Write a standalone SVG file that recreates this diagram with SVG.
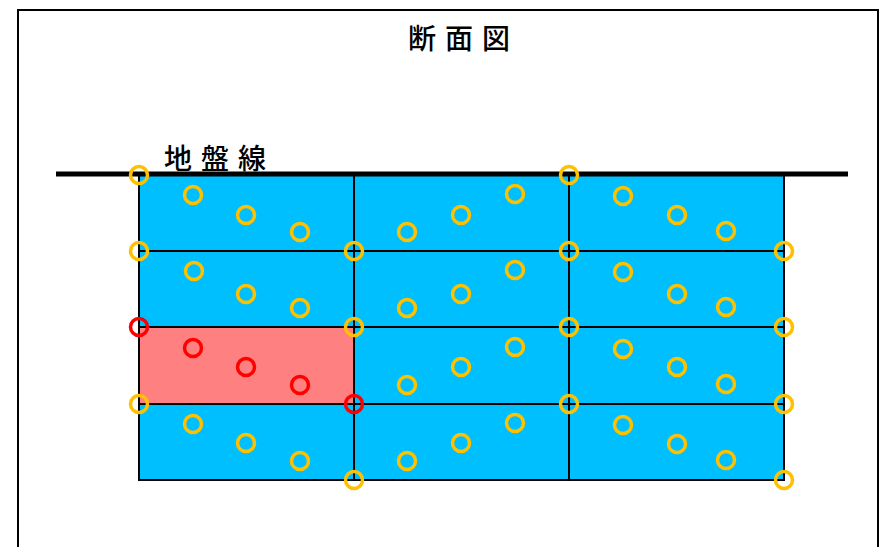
<svg xmlns="http://www.w3.org/2000/svg" width="883" height="547" viewBox="0 0 883 547">
<style>
.t{font-family:"Noto Sans CJK JP","Noto Sans",sans-serif;font-size:28px;font-weight:500;fill:#000;letter-spacing:9px}
.g{stroke:#000;stroke-width:2;fill:none}
.o{fill:none;stroke:#FFC000;stroke-width:3.5}
.r{fill:none;stroke:#FF0000;stroke-width:3.5}
</style>
<rect x="0" y="0" width="883" height="547" fill="#fff"/>
<rect x="18" y="10" width="860" height="560" fill="none" stroke="#000" stroke-width="2"/>
<text class="t" x="408" y="49">断面図</text>
<text class="t" x="164" y="169">地盤線</text>
<g id="ground">
<rect x="139" y="175" width="645" height="305" fill="#00BFFF"/>
<rect x="139" y="327" width="215" height="77" fill="#FF8080"/>
</g>
<g id="connectors" class="g">
<path d="M139 175V480H784V175M354 175V480M569 175V480M139 251H784M139 327H784M139 404H784"/>
<path d="M56 174H848" stroke-width="5"/>
</g>
<g id="nodes">
<g class="o">
<circle cx="193" cy="195" r="8.5"/><circle cx="246" cy="215" r="8.5"/><circle cx="300" cy="232" r="8.5"/>
<circle cx="194" cy="271" r="8.5"/><circle cx="246" cy="294" r="8.5"/><circle cx="300" cy="308" r="8.5"/>
<circle cx="193" cy="424" r="8.5"/><circle cx="246" cy="443" r="8.5"/><circle cx="300" cy="461" r="8.5"/>
<circle cx="407" cy="232" r="8.5"/><circle cx="461" cy="215" r="8.5"/><circle cx="515" cy="194" r="8.5"/>
<circle cx="407" cy="308" r="8.5"/><circle cx="461" cy="294" r="8.5"/><circle cx="515" cy="270" r="8.5"/>
<circle cx="407" cy="385" r="8.5"/><circle cx="461" cy="367" r="8.5"/><circle cx="515" cy="347" r="8.5"/>
<circle cx="407" cy="461" r="8.5"/><circle cx="461" cy="443" r="8.5"/><circle cx="515" cy="423" r="8.5"/>
<circle cx="623" cy="196" r="8.5"/><circle cx="677" cy="215" r="8.5"/><circle cx="726" cy="231" r="8.5"/>
<circle cx="623" cy="272" r="8.5"/><circle cx="677" cy="294" r="8.5"/><circle cx="726" cy="307" r="8.5"/>
<circle cx="623" cy="349" r="8.5"/><circle cx="677" cy="367" r="8.5"/><circle cx="726" cy="384" r="8.5"/>
<circle cx="623" cy="425" r="8.5"/><circle cx="677" cy="444" r="8.5"/><circle cx="726" cy="460" r="8.5"/>
<circle cx="139" cy="175" r="8.5"/><circle cx="569" cy="175" r="8.5"/>
<circle cx="139" cy="251" r="8.5"/><circle cx="354" cy="251" r="8.5"/><circle cx="569" cy="251" r="8.5"/><circle cx="784" cy="251" r="8.5"/>
<circle cx="354" cy="327" r="8.5"/><circle cx="569" cy="327" r="8.5"/><circle cx="784" cy="327" r="8.5"/>
<circle cx="139" cy="404" r="8.5"/><circle cx="569" cy="404" r="8.5"/><circle cx="784" cy="404" r="8.5"/>
<circle cx="354" cy="480" r="8.5"/><circle cx="784" cy="480" r="8.5"/>
</g>
<g class="r">
<circle cx="193" cy="348" r="8.5"/><circle cx="246" cy="367" r="8.5"/><circle cx="300" cy="385" r="8.5"/>
<circle cx="139" cy="327" r="8.5"/><circle cx="354" cy="404" r="8.5"/>
</g>
</g>
</svg>
